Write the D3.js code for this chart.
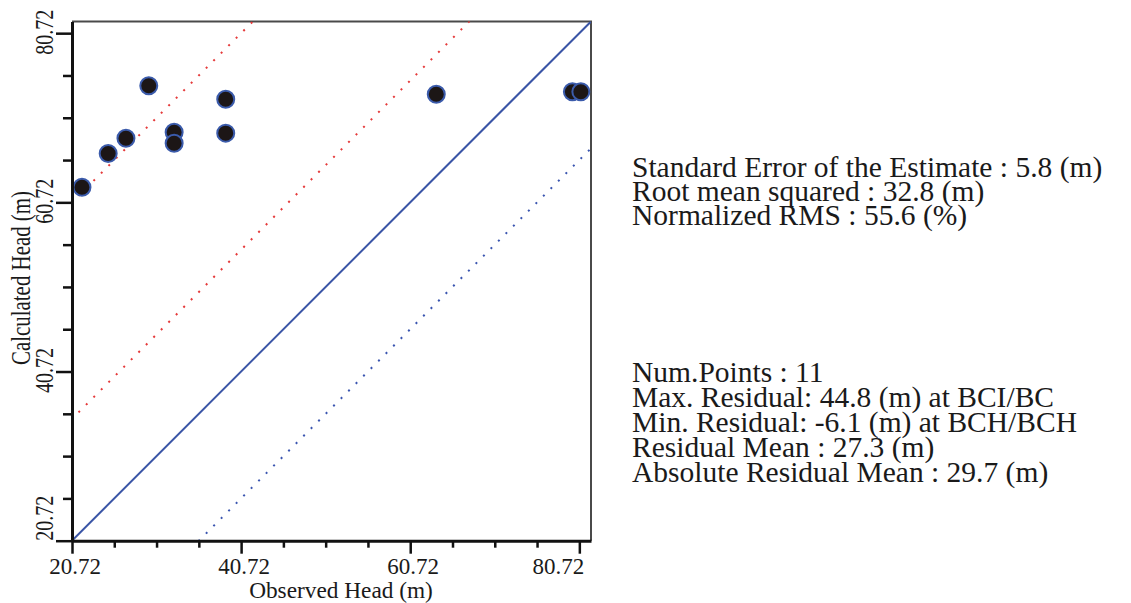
<!DOCTYPE html>
<html>
<head>
<meta charset="utf-8">
<script src="https://cdn.jsdelivr.net/npm/d3@7"></script>
<style>
  body { margin: 0; background: #fff; }
  text { font-family: "Liberation Serif", "Times New Roman", serif; fill: #1a1a1a; }
</style>
</head>
<body>
<div id="chart"></div>
<script>
// observed vs calculated heads (m)
var observed   = [21.9, 25.0, 27.1, 29.8, 32.8, 32.8, 38.9, 38.9, 63.8, 79.9, 80.9];
var calculated = [62.5, 66.5, 68.3, 74.5, 69.0, 67.7, 72.9, 68.9, 73.5, 73.8, 73.8];

// dotted interval lines: calculated = observed + offset
var bandOffsets = [40.0, 14.4, -15.0];
var bandColours = ["#e53a3a", "#e53a3a", "#3a55b0"];

var axisDomain = [20.72, 82.1];
var majorTicks = [20.72, 40.72, 60.72, 80.72];
var minorTicks = [25.72, 30.72, 35.72, 45.72, 50.72, 55.72, 65.72, 70.72, 75.72];

var statsTop = [
  "Standard Error of the Estimate : 5.8 (m)",
  "Root mean squared : 32.8 (m)",
  "Normalized RMS : 55.6 (%)"
];
var statsBottom = [
  "Num.Points : 11",
  "Max. Residual: 44.8 (m) at BCI/BC",
  "Min. Residual: -6.1 (m) at BCH/BCH",
  "Residual Mean : 27.3 (m)",
  "Absolute Residual Mean : 29.7 (m)"
];

var plot = { left: 72, right: 591, top: 21.5, bottom: 540.7 };

var svg = d3.select("#chart")
  .append("svg")
  .attr("width", 1131)
  .attr("height", 603);

var x = d3.scaleLinear().domain(axisDomain).range([plot.left, plot.right]);
var y = d3.scaleLinear().domain(axisDomain).range([plot.bottom, plot.top]);

svg.append("clipPath")
  .attr("id", "plot-clip")
  .append("rect")
  .attr("x", plot.left)
  .attr("y", plot.top)
  .attr("width", plot.right - plot.left)
  .attr("height", plot.bottom - plot.top);

// top / right frame
svg.append("path")
  .attr("d", "M" + plot.left + "," + plot.top + "H" + plot.right + "V" + plot.bottom)
  .attr("fill", "none")
  .attr("stroke", "#4a4a4a")
  .attr("stroke-width", 2);

var inner = svg.append("g").attr("clip-path", "url(#plot-clip)");

// dotted interval lines
inner.selectAll(".band")
  .data(bandOffsets)
  .enter()
  .append("line")
  .attr("class", "band")
  .attr("x1", function (d) { return x(axisDomain[0] - 40); })
  .attr("y1", function (d) { return y(axisDomain[0] - 40 + d); })
  .attr("x2", function (d) { return x(axisDomain[1] + 40); })
  .attr("y2", function (d) { return y(axisDomain[1] + 40 + d); })
  .attr("stroke", function (d, i) { return bandColours[i]; })
  .attr("stroke-width", 2)
  .attr("stroke-dasharray", "2,8.6");

// 1:1 line
inner.append("line")
  .attr("x1", x(axisDomain[0]))
  .attr("y1", y(axisDomain[0]))
  .attr("x2", x(axisDomain[1]))
  .attr("y2", y(axisDomain[1]))
  .attr("stroke", "#3a55a6")
  .attr("stroke-width", 2);

// points
svg.selectAll(".pt")
  .data(observed)
  .enter()
  .append("circle")
  .attr("class", "pt")
  .attr("cx", function (d) { return x(d); })
  .attr("cy", function (d, i) { return y(calculated[i]); })
  .attr("r", 8.5)
  .attr("fill", "#1c1616")
  .attr("stroke", "#3b5bab")
  .attr("stroke-width", 2);

// axes
function styleAxis(g, width) {
  g.selectAll("line").attr("stroke", "#111").attr("stroke-width", 2.5);
  g.selectAll("path").attr("stroke", "#111").attr("stroke-width", width);
}

var xMinor = svg.append("g")
  .attr("transform", "translate(0," + plot.bottom + ")")
  .call(d3.axisBottom(x).tickValues(minorTicks).tickSize(7).tickSizeOuter(0).tickFormat(""));
xMinor.select(".domain").remove();
styleAxis(xMinor, 0);

var xMajor = svg.append("g")
  .attr("transform", "translate(0," + plot.bottom + ")")
  .call(d3.axisBottom(x).tickValues(majorTicks).tickSize(13).tickSizeOuter(0).tickFormat(""));
styleAxis(xMajor, 3);

var yMinor = svg.append("g")
  .attr("transform", "translate(" + plot.left + ",0)")
  .call(d3.axisLeft(y).tickValues(minorTicks).tickSize(9).tickSizeOuter(0).tickFormat(""));
yMinor.select(".domain").remove();
styleAxis(yMinor, 0);

var yMajor = svg.append("g")
  .attr("transform", "translate(" + plot.left + ",0)")
  .call(d3.axisLeft(y).tickValues(majorTicks).tickSize(16).tickSizeOuter(0).tickFormat(""));
styleAxis(yMajor, 3);

// tick labels (the end labels are pulled inside the axis span)
svg.selectAll(".xlab")
  .data(majorTicks)
  .enter()
  .append("text")
  .attr("class", "xlab")
  .attr("x", function (d, i) { return i == majorTicks.length - 1 ? x(d) + 5 : x(d) + 3; })
  .attr("y", 574)
  .attr("font-size", 23)
  .attr("text-anchor", function (d, i) { return i == majorTicks.length - 1 ? "end" : "middle"; })
  .text(function (d) { return d.toFixed(2); });

svg.selectAll(".ylab")
  .data(majorTicks)
  .enter()
  .append("text")
  .attr("class", "ylab")
  .attr("transform", function (d, i) {
    var py = i == 0 ? plot.bottom : y(d) - 1;
    return "translate(53," + py + ") rotate(-90) scale(1,1.3)";
  })
  .attr("font-size", 20)
  .attr("text-anchor", function (d, i) { return i == 0 ? "start" : "middle"; })
  .text(function (d) { return d.toFixed(2); });

// axis titles
svg.append("text")
  .attr("x", 341)
  .attr("y", 598)
  .attr("font-size", 23.3)
  .attr("text-anchor", "middle")
  .text("Observed Head (m)");

svg.append("text")
  .attr("transform", "translate(30,278) rotate(-90) scale(1,1.3)")
  .attr("font-size", 20.9)
  .attr("text-anchor", "middle")
  .text("Calculated Head (m)");

// statistics
svg.selectAll(".stat1")
  .data(statsTop)
  .enter()
  .append("text")
  .attr("class", "stat1")
  .attr("x", 632)
  .attr("y", function (d, i) { return 176.5 + i * 24.2; })
  .attr("font-size", 29.5)
  .text(function (d) { return d; });

svg.selectAll(".stat2")
  .data(statsBottom)
  .enter()
  .append("text")
  .attr("class", "stat2")
  .attr("x", 632)
  .attr("y", function (d, i) { return 381.7 + i * 25; })
  .attr("font-size", 29.5)
  .text(function (d) { return d; });
</script>
</body>
</html>
